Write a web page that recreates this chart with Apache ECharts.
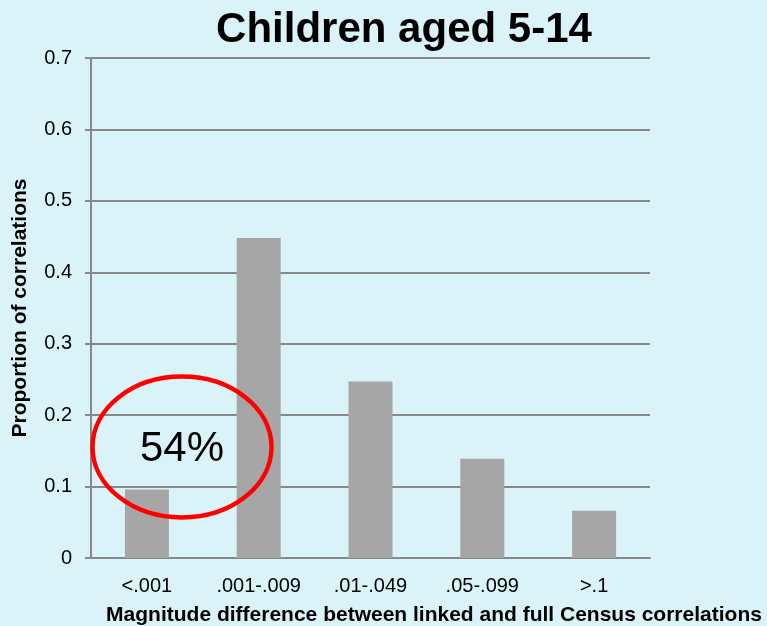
<!DOCTYPE html>
<html>
<head>
<meta charset="utf-8">
<script src="https://cdn.jsdelivr.net/npm/echarts@6/dist/echarts.min.js"></script>
<style>
html, body { margin: 0; padding: 0; background: #daf3f8; }
#bar { width: 767px; height: 626px; }
</style>
</head>
<body>
<div id="bar"></div>
<script>
// 数据
var categories = ['<.001', '.001-.009', '.01-.049', '.05-.099', '>.1'];
var proportions = [0.096, 0.448, 0.247, 0.139, 0.066];
var yTicks = [0, 0.1, 0.2, 0.3, 0.4, 0.5, 0.6, 0.7];
var noteText = '54%';

var myChart = echarts.init(document.getElementById('bar'));
var option = {
    backgroundColor: '#daf3f8',
    title: {
        text: 'Children aged 5-14',
        left: 399,
        top: 4,
        textAlign: 'center',
        textStyle: {
            fontFamily: 'Liberation Sans, Arial, sans-serif',
            fontSize: 42,
            fontWeight: 'bold',
            color: '#000'
        }
    },
    grid: {
        left: 91,
        right: 117,
        top: 58,
        bottom: 68,
        outerBoundsMode: 'none'
    },
    xAxis: {
        type: 'category',
        data: categories,
        name: 'Magnitude difference between linked and full Census correlations',
        nameLocation: 'middle',
        nameGap: 47,
        nameTextStyle: {
            fontFamily: 'Liberation Sans, Arial, sans-serif',
            fontSize: 21,
            fontWeight: 'bold',
            color: '#000',
            padding: [0, 0, 0, 127]
        },
        axisLine: { lineStyle: { color: '#888', width: 2 } },
        axisTick: { show: false },
        axisLabel: {
            margin: 18,
            fontFamily: 'Liberation Sans, Arial, sans-serif',
            fontSize: 20,
            color: '#000'
        }
    },
    yAxis: {
        type: 'value',
        min: yTicks[0],
        max: yTicks[yTicks.length - 1],
        interval: 0.1,
        name: 'Proportion of correlations',
        nameLocation: 'middle',
        nameGap: 60,
        nameTextStyle: {
            fontFamily: 'Liberation Sans, Arial, sans-serif',
            fontSize: 21,
            fontWeight: 'bold',
            color: '#000'
        },
        axisLine: { show: true, lineStyle: { color: '#888', width: 2 } },
        axisTick: { show: true, length: 6, lineStyle: { color: '#888', width: 2 } },
        axisLabel: {
            margin: 19,
            fontFamily: 'Liberation Sans, Arial, sans-serif',
            fontSize: 20,
            color: '#000'
        },
        splitLine: { lineStyle: { color: '#888', width: 2 } }
    },
    series: [
        {
            type: 'bar',
            data: proportions,
            barWidth: 44,
            itemStyle: { color: '#a6a6a6' }
        }
    ],
    graphic: [
        {
            type: 'ellipse',
            z: 100,
            shape: { cx: 182, cy: 447, rx: 89.5, ry: 70.5 },
            style: { fill: 'none', stroke: '#ff0000', lineWidth: 4.5 }
        },
        {
            type: 'text',
            z: 101,
            x: 182,
            y: 449,
            style: {
                text: noteText,
                fill: '#000',
                font: '42px "Liberation Sans", Arial, sans-serif',
                textAlign: 'center',
                textVerticalAlign: 'middle'
            }
        }
    ]
};
myChart.setOption(option);
</script>
</body>
</html>
